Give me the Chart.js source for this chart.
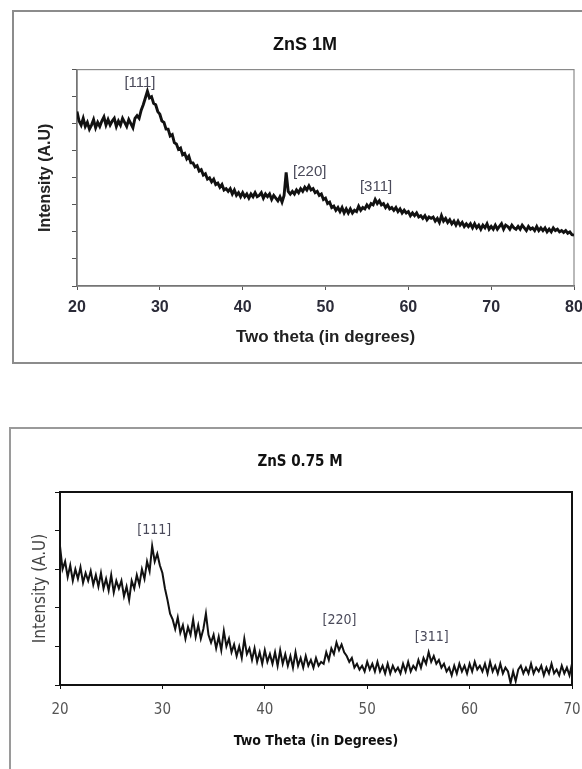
<!DOCTYPE html>
<html>
<head>
<meta charset="utf-8">
<script src="https://cdn.jsdelivr.net/npm/chart.js@4.4.1/dist/chart.umd.min.js"></script>
<style>
	html, body { margin: 0; padding: 0; background: #fff; width: 582px; height: 769px; overflow: hidden; position: relative; }
	.frame { position: absolute; box-sizing: border-box; }
	#frame1 { left: 12px; top: 10px; width: 620px; height: 354px; border: 2px solid #8c8c8c; }
	#frame2 { left: 9px; top: 427px; width: 620px; height: 400px; border: 2px solid #9a9a9a; }
	canvas { position: absolute; left: 0; }
	#chart1 { top: 0; }
	#chart2 { top: 400px; }
</style>
</head>
<body>
<div class="frame" id="frame1"></div>
<div class="frame" id="frame2"></div>
<canvas id="chart1" width="620" height="380"></canvas>
<canvas id="chart2" width="620" height="369"></canvas>
<script>
// scan grid (degrees 2-theta)
const THETA_START = 20;
const THETA_STEP = 0.25;

// ZnS 1M, 20..80 deg, intensity in tick units (8 divisions)
const intensity1M = [
	6.45, 6.1, 5.95, 6.2,
	5.9, 6.05, 5.8, 5.95,
	6.15, 5.85, 6.05, 5.9,
	6.1, 6.25, 5.95, 6.15,
	5.95, 6.1, 6.2, 5.9,
	6.1, 5.95, 6.2, 6.05,
	5.9, 6.15, 6.0, 5.85,
	6.2, 6.3, 6.2, 6.5,
	6.7, 6.95, 7.2, 6.95,
	7.0, 6.75, 6.7, 6.45,
	6.35, 6.1, 6.05, 5.8,
	5.8, 5.55, 5.6, 5.3,
	5.25, 5.05, 5.1, 4.85,
	4.9, 4.7, 4.8, 4.55,
	4.55, 4.4, 4.45, 4.25,
	4.3, 4.1, 4.15, 3.95,
	4.0, 3.85, 3.95, 3.75,
	3.8, 3.65, 3.75, 3.55,
	3.6, 3.5, 3.6, 3.4,
	3.55, 3.35, 3.45, 3.3,
	3.45, 3.3, 3.4, 3.25,
	3.4, 3.3, 3.45, 3.3,
	3.35, 3.45, 3.25, 3.4,
	3.3, 3.4, 3.2, 3.35,
	3.25, 3.15, 3.3, 3.1,
	3.35, 4.2, 3.5, 3.4,
	3.5, 3.4, 3.55, 3.45,
	3.6, 3.5, 3.65, 3.55,
	3.7, 3.55, 3.6, 3.45,
	3.5, 3.35, 3.4, 3.2,
	3.25, 3.05, 3.1, 2.9,
	2.95, 2.8, 2.9, 2.75,
	2.9, 2.7, 2.85, 2.7,
	2.85, 2.7, 2.8, 2.75,
	2.95, 2.8, 2.9, 2.85,
	3.0, 2.9, 3.05, 3.0,
	3.2, 3.05, 3.15, 3.0,
	3.05, 2.9, 3.0, 2.85,
	2.9, 2.8, 2.9, 2.75,
	2.85, 2.7, 2.8, 2.7,
	2.75, 2.6, 2.7, 2.6,
	2.7, 2.55, 2.6, 2.5,
	2.6, 2.45, 2.55, 2.5,
	2.55, 2.4, 2.5, 2.35,
	2.6, 2.4, 2.5, 2.35,
	2.45, 2.3, 2.4, 2.25,
	2.4, 2.25, 2.35, 2.2,
	2.3, 2.2, 2.3, 2.15,
	2.3, 2.15, 2.25, 2.1,
	2.25, 2.15, 2.3, 2.1,
	2.2, 2.1, 2.25, 2.1,
	2.2, 2.3, 2.1, 2.25,
	2.2, 2.1, 2.25, 2.15,
	2.1, 2.2, 2.1, 2.25,
	2.15, 2.05, 2.2, 2.1,
	2.15, 2.05, 2.2, 2.05,
	2.15, 2.05, 2.15, 2.0,
	2.1, 2.0, 2.15, 2.05,
	2.1, 2.0, 2.05, 1.98,
	2.05, 1.95, 2.0, 1.9,
	1.88,
];

// ZnS 0.75 M, 20..70 deg, intensity in tick units (5 divisions)
const intensity075M = [
	3.6, 3.0, 3.2, 2.8,
	3.1, 2.7, 3.0, 2.75,
	3.05, 2.65, 2.9, 2.7,
	2.95, 2.6, 2.85, 2.55,
	2.9, 2.5, 2.75, 2.45,
	2.85, 2.4, 2.7, 2.5,
	2.7, 2.3, 2.55, 2.2,
	2.7, 2.5, 2.85, 2.6,
	3.0, 2.75, 3.2, 2.95,
	3.6, 3.2, 3.4, 3.1,
	2.9, 2.5, 2.2, 1.85,
	1.7, 1.45, 1.75, 1.35,
	1.55, 1.2, 1.5, 1.3,
	1.7, 1.25, 1.55, 1.2,
	1.45, 1.85, 1.3, 1.1,
	1.3, 0.95, 1.25, 0.9,
	1.4, 1.0, 1.2, 0.85,
	1.05, 0.75, 1.0, 0.7,
	1.2, 0.8, 0.95, 0.65,
	0.95, 0.6, 0.85, 0.55,
	0.9, 0.6, 0.8, 0.55,
	0.85, 0.5, 0.9, 0.55,
	0.8, 0.5, 0.75, 0.45,
	0.85, 0.5, 0.7, 0.45,
	0.75, 0.5, 0.65, 0.45,
	0.7, 0.5, 0.6, 0.55,
	0.85, 0.65, 0.95, 0.8,
	1.1, 0.9, 1.05, 0.85,
	0.75, 0.6, 0.7, 0.45,
	0.55, 0.4, 0.5, 0.35,
	0.6, 0.4, 0.55, 0.35,
	0.6, 0.35, 0.5, 0.3,
	0.55, 0.3, 0.5, 0.35,
	0.45, 0.3, 0.55, 0.35,
	0.6, 0.35, 0.5, 0.4,
	0.65, 0.45, 0.7, 0.55,
	0.85, 0.6, 0.75, 0.55,
	0.65, 0.45, 0.55, 0.35,
	0.45, 0.25, 0.5, 0.3,
	0.55, 0.35, 0.5, 0.3,
	0.55, 0.35, 0.6, 0.4,
	0.5, 0.35, 0.55, 0.3,
	0.6, 0.35, 0.5, 0.3,
	0.55, 0.3, 0.45, 0.35,
	0.05, 0.35, 0.1, 0.4,
	0.5, 0.3, 0.45, 0.3,
	0.55, 0.3, 0.45, 0.35,
	0.5, 0.25, 0.45, 0.3,
	0.55, 0.3, 0.4, 0.25,
	0.5, 0.3, 0.45, 0.25,
	0.55,
];

// peak labels
const peakNames = ['[111]', '[220]', '[311]'];
const peakTheta1M = [27.6, 48.1, 56.1];
const peakLevel1M = [7.5, 4.22, 3.67];
const peakTheta075M = [29.2, 47.3, 56.3];
const peakLevel075M = [4.0, 1.68, 1.24];

const FONT_WIDE = "'Liberation Sans', Arial, sans-serif";
const FONT_NARROW = "'Liberation Sans Narrow', 'Arial Narrow', 'DejaVu Sans Condensed', sans-serif";

function toPoints(values) {
	return values.map((v, i) => ({ x: THETA_START + i * THETA_STEP, y: v }));
}

// box around the plot area
const plotFramePlugin = {
	id: 'plotFrame',
	beforeDatasetsDraw(chart, args, opts) {
		const { ctx, chartArea: a } = chart;
		ctx.save();
		ctx.strokeStyle = opts.color;
		ctx.lineWidth = opts.width;
		ctx.strokeRect(a.left, a.top, a.right - a.left, a.bottom - a.top);
		ctx.restore();
	},
};

// miller index labels over the peaks
const peakLabelPlugin = {
	id: 'peakLabels',
	afterDatasetsDraw(chart, args, opts) {
		const { ctx, scales } = chart;
		ctx.save();
		ctx.font = opts.font;
		ctx.fillStyle = opts.color;
		ctx.textAlign = 'center';
		ctx.textBaseline = 'middle';
		opts.names.forEach((t, i) => {
			ctx.fillText(t, scales.x.getPixelForValue(opts.theta[i]), scales.y.getPixelForValue(opts.level[i]));
		});
		ctx.restore();
	},
};

// ZnS 1M
new Chart(document.getElementById('chart1'), {
	type: 'line',
	data: {
		datasets: [{ data: toPoints(intensity1M), borderColor: '#111', borderWidth: 2.9, pointRadius: 0, tension: 0 }],
	},
	options: {
		responsive: false,
		animation: false,
		layout: { padding: { left: 36, right: 46, top: 0, bottom: 0 } },
		plugins: {
			legend: { display: false },
			tooltip: { enabled: false },
			title: { display: true, text: 'ZnS 1M', color: '#111', font: { family: FONT_WIDE, size: 18, weight: 'bold' }, padding: { top: 34, bottom: 14 } },
			plotFrame: { color: '#8a8a8a', width: 1.2 },
			peakLabels: { names: peakNames, theta: peakTheta1M, level: peakLevel1M, font: '15px ' + FONT_WIDE, color: '#4a4a5a' },
		},
		scales: {
			x: {
				type: 'linear', min: 20, max: 80,
				ticks: { stepSize: 10, padding: 8, color: '#2b2b38', font: { family: FONT_WIDE, size: 16, weight: 'bold' } },
				grid: { drawOnChartArea: false, tickLength: 4, color: '#555' },
				border: { color: '#555', width: 1.5 },
				title: { display: true, text: 'Two theta (in degrees)', color: '#222', font: { family: FONT_WIDE, size: 17, weight: 'bold' }, padding: { top: 0, bottom: 32 } },
				afterFit: (s) => { s.height = 94; },
			},
			y: {
				min: 0, max: 8,
				ticks: { stepSize: 1, display: false },
				grid: { drawOnChartArea: false, tickLength: 5, color: '#555' },
				border: { color: '#555', width: 1.5 },
				title: { display: true, text: 'Intensity (A.U)', color: '#222', font: { family: FONT_WIDE, size: 16, weight: 'bold' }, padding: { top: 0, bottom: 0 } },
				afterFit: (s) => { s.width = 41; },
			},
		},
	},
	plugins: [plotFramePlugin, peakLabelPlugin],
});

// ZnS 0.75 M
new Chart(document.getElementById('chart2'), {
	type: 'line',
	data: {
		datasets: [{ data: toPoints(intensity075M), borderColor: '#111', borderWidth: 2, pointRadius: 0, tension: 0 }],
	},
	options: {
		responsive: false,
		animation: false,
		layout: { padding: { left: 28, right: 48, top: 0, bottom: 0 } },
		plugins: {
			legend: { display: false },
			tooltip: { enabled: false },
			title: { display: true, text: 'ZnS 0.75 M', color: '#111', font: { family: FONT_NARROW, size: 15, weight: 'bold' }, padding: { top: 53, bottom: 21 } },
			plotFrame: { color: '#111', width: 2 },
			peakLabels: { names: peakNames, theta: peakTheta075M, level: peakLevel075M, font: '14px ' + FONT_NARROW, color: '#4a4a5a' },
		},
		scales: {
			x: {
				type: 'linear', min: 20, max: 70,
				ticks: { stepSize: 10, padding: 12, color: '#555', font: { family: FONT_NARROW, size: 15 } },
				grid: { drawOnChartArea: false, tickLength: 4, color: '#111' },
				border: { color: '#111', width: 2 },
				title: { display: true, text: 'Two Theta (in Degrees)', color: '#111', font: { family: FONT_NARROW, size: 14, weight: 'bold' }, padding: { top: 0, bottom: 19 } },
				afterFit: (s) => { s.height = 84; },
			},
			y: {
				min: 0, max: 5,
				ticks: { stepSize: 1, display: false },
				grid: { drawOnChartArea: false, tickLength: 5, color: '#111' },
				border: { color: '#111', width: 2 },
				title: { display: true, text: 'Intensity (A.U)', color: '#444', font: { family: FONT_NARROW, size: 17 }, padding: { top: 2.8, bottom: 0 } },
				afterFit: (s) => { s.width = 32; },
			},
		},
	},
	plugins: [plotFramePlugin, peakLabelPlugin],
});
</script>
</body>
</html>
